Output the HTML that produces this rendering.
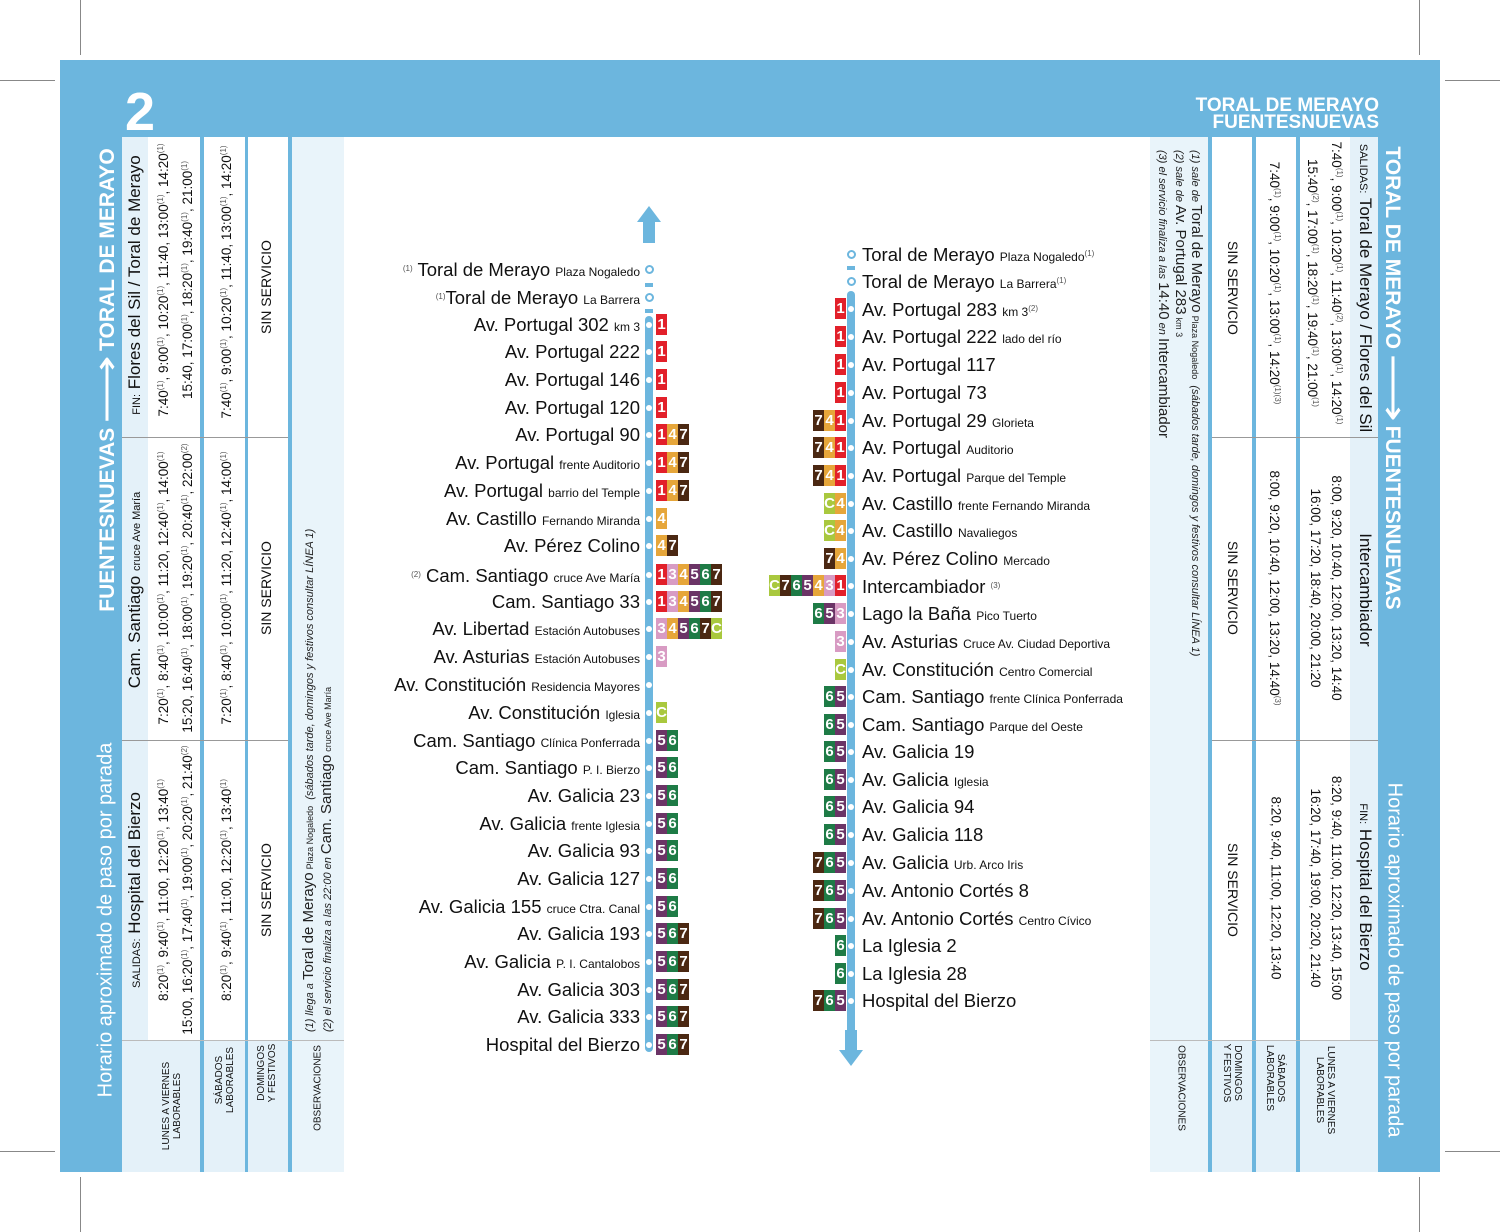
<!DOCTYPE html>
<html><head><meta charset="utf-8"><style>
*{margin:0;padding:0;box-sizing:border-box}
body{width:1500px;height:1232px;background:#fff;position:relative;overflow:hidden;font-family:"Liberation Sans",Arial,sans-serif;color:#111}
.a{position:absolute}
.cl{position:absolute;white-space:nowrap;transform:translate(-50%,-50%) rotate(-90deg)}
.cr{position:absolute;white-space:nowrap;transform:translate(-50%,-50%) rotate(90deg)}
.sl{position:absolute;white-space:nowrap;transform-origin:0 0;transform:rotate(-90deg)}
.sr{position:absolute;white-space:nowrap;transform-origin:0 0;transform:rotate(90deg)}
sup{font-size:8px;color:#555;vertical-align:5px}
.t{font-size:13.5px;text-align:center;line-height:21px}
.hd{font-size:17px}.hd small{font-size:11px}
.ss{font-size:14px}
.lb{font-size:10px;text-align:center;line-height:11px}
.ob{font-size:11px;font-style:italic;color:#222}.ob b{font-style:normal;font-weight:normal;font-size:15px}
.w{color:#fff;font-weight:bold}
.ar{font-weight:normal;font-size:34px;display:inline-block;transform:scaleX(1.4);margin:0 14px;vertical-align:-4px;line-height:20px}
.st{position:absolute;height:24px;line-height:24px;white-space:nowrap;font-size:18.5px}
.st small{font-size:12px}
.L{left:0;width:640px;text-align:right}
.R{left:862px}
.bd{position:absolute;height:21px;top:1px;display:flex}
.bd span{flex:none;display:inline-block;width:11px;height:21px;color:#fff;font-weight:bold;font-size:15px;line-height:21px;text-align:center;overflow:hidden}
.r{background:#e2202a}.p{background:#d89bc3}.o{background:#e6a63a}.u{background:#6b3466}.g{background:#1e7b46}.k{background:#4b2812}.c{background:#a9c83e}
.dot{position:absolute;width:6px;height:6px;border-radius:50%;background:#fff}
.ho{position:absolute;width:9px;height:9px;border-radius:50%;border:2px solid #6cb6de;background:#fff}
</style></head><body>
<div class="a" style="left:80px;top:0;width:1px;height:55px;background:#888"></div>
<div class="a" style="left:0;top:80px;width:55px;height:1px;background:#888"></div>
<div class="a" style="left:1419px;top:0;width:1px;height:55px;background:#888"></div>
<div class="a" style="left:1445px;top:80px;width:55px;height:1px;background:#888"></div>
<div class="a" style="left:80px;top:1177px;width:1px;height:55px;background:#888"></div>
<div class="a" style="left:0;top:1151px;width:55px;height:1px;background:#888"></div>
<div class="a" style="left:1419px;top:1177px;width:1px;height:55px;background:#888"></div>
<div class="a" style="left:1445px;top:1151px;width:55px;height:1px;background:#888"></div>

<div class="a" style="left:60px;top:60px;width:1380px;height:77px;background:#6cb6de"></div>
<div class="a" style="left:60px;top:60px;width:62px;height:1112px;background:#6cb6de"></div>
<div class="a" style="left:1378px;top:60px;width:62px;height:1112px;background:#6cb6de"></div>
<div class="a w" style="left:125px;top:82px;font-size:54px;line-height:60px">2</div>
<div class="a w" style="right:121px;top:97px;font-size:19px;line-height:17px;text-align:right">TORAL DE MERAYO<br>FUENTESNUEVAS</div>

<!-- LEFT TABLE -->
<div class="a" style="left:122px;top:137px;width:26px;height:1035px;background:#e4f1f9"></div>
<div class="a" style="left:200px;top:137px;width:4px;height:1035px;background:#6cb6de"></div>
<div class="a" style="left:245px;top:137px;width:3px;height:1035px;background:#6cb6de"></div>
<div class="a" style="left:288px;top:137px;width:4px;height:1035px;background:#6cb6de"></div>
<div class="a" style="left:292px;top:137px;width:52px;height:1035px;background:#e9f4fa"></div>
<div class="a" style="left:122px;top:1040px;width:78px;height:132px;background:#e4f1f9"></div>
<div class="a" style="left:204px;top:1040px;width:41px;height:132px;background:#e4f1f9"></div>
<div class="a" style="left:248px;top:1040px;width:40px;height:132px;background:#e4f1f9"></div>
<div class="a" style="left:122px;top:437px;width:166px;height:1px;background:#999"></div>
<div class="a" style="left:122px;top:740px;width:166px;height:1px;background:#999"></div>
<div class="a" style="left:122px;top:1040px;width:222px;height:1px;background:#bbb"></div>

<div class="cl w" style="left:108px;top:380px;font-size:21px">FUENTESNUEVAS<span class="ar">⟶</span>TORAL DE MERAYO</div>
<div class="cl" style="left:106px;top:920px;font-size:20px;color:#fff">Horario aproximado de paso por parada</div>

<div class="cl hd" style="left:135px;top:285px"><small>FIN:</small> Flores del Sil / Toral de Merayo</div>
<div class="cl hd" style="left:135px;top:590px">Cam. Santiago <small>cruce Ave María</small></div>
<div class="cl hd" style="left:135px;top:890px"><small>SALIDAS:</small> Hospital del Bierzo</div>

<div class="cl t" style="left:174px;top:280px">7:40<sup>(1)</sup>, 9:00<sup>(1)</sup>, 10:20<sup>(1)</sup>, 11:40, 13:00<sup>(1)</sup>, 14:20<sup>(1)</sup><br>15:40, 17:00<sup>(1)</sup>, 18:20<sup>(1)</sup>, 19:40<sup>(1)</sup>, 21:00<sup>(1)</sup></div>
<div class="cl t" style="left:174px;top:588px">7:20<sup>(1)</sup>, 8:40<sup>(1)</sup>, 10:00<sup>(1)</sup>, 11:20, 12:40<sup>(1)</sup>, 14:00<sup>(1)</sup><br>15:20, 16:40<sup>(1)</sup>, 18:00<sup>(1)</sup>, 19:20<sup>(1)</sup>, 20:40<sup>(1)</sup>, 22:00<sup>(2)</sup></div>
<div class="cl t" style="left:174px;top:890px">8:20<sup>(1)</sup>, 9:40<sup>(1)</sup>, 11:00, 12:20<sup>(1)</sup>, 13:40<sup>(1)</sup><br>15:00, 16:20<sup>(1)</sup>, 17:40<sup>(1)</sup>, 19:00<sup>(1)</sup>, 20:20<sup>(1)</sup>, 21:40<sup>(2)</sup></div>
<div class="cl t" style="left:225px;top:282px">7:40<sup>(1)</sup>, 9:00<sup>(1)</sup>, 10:20<sup>(1)</sup>, 11:40, 13:00<sup>(1)</sup>, 14:20<sup>(1)</sup></div>
<div class="cl t" style="left:225px;top:588px">7:20<sup>(1)</sup>, 8:40<sup>(1)</sup>, 10:00<sup>(1)</sup>, 11:20, 12:40<sup>(1)</sup>, 14:00<sup>(1)</sup></div>
<div class="cl t" style="left:225px;top:890px">8:20<sup>(1)</sup>, 9:40<sup>(1)</sup>, 11:00, 12:20<sup>(1)</sup>, 13:40<sup>(1)</sup></div>
<div class="cl ss" style="left:266px;top:287px">SIN SERVICIO</div>
<div class="cl ss" style="left:266px;top:588px">SIN SERVICIO</div>
<div class="cl ss" style="left:266px;top:890px">SIN SERVICIO</div>
<div class="sl ob" style="left:300px;top:1032px">(1) <i>llega a</i> <b>Toral de Merayo</b> <span style="font-size:9px;font-style:normal">Plaza Nogaledo</span> &nbsp;(sábados tarde, domingos y festivos consultar LÍNEA 1)</div>
<div class="sl ob" style="left:318px;top:1032px">(2) el servicio finaliza a las 22:00 en <b>Cam. Santiago</b> <span style="font-size:9px;font-style:normal">cruce Ave María</span></div>

<div class="cl lb" style="left:172px;top:1106px">LUNES A VIERNES<br>LABORABLES</div>
<div class="cl lb" style="left:225px;top:1080px">SÁBADOS<br>LABORABLES</div>
<div class="cl lb" style="left:267px;top:1073px">DOMINGOS<br>Y FESTIVOS</div>
<div class="cl lb" style="left:318px;top:1088px">OBSERVACIONES</div>

<!-- RIGHT TABLE -->
<div class="a" style="left:1150px;top:137px;width:58px;height:1035px;background:#e9f4fa"></div>
<div class="a" style="left:1208px;top:137px;width:4px;height:1035px;background:#6cb6de"></div>
<div class="a" style="left:1252px;top:137px;width:4px;height:1035px;background:#6cb6de"></div>
<div class="a" style="left:1296px;top:137px;width:4px;height:1035px;background:#6cb6de"></div>
<div class="a" style="left:1350px;top:137px;width:28px;height:1035px;background:#e4f1f9"></div>
<div class="a" style="left:1212px;top:1040px;width:40px;height:132px;background:#e4f1f9"></div>
<div class="a" style="left:1256px;top:1040px;width:40px;height:132px;background:#e4f1f9"></div>
<div class="a" style="left:1300px;top:1040px;width:50px;height:132px;background:#e4f1f9"></div>
<div class="a" style="left:1212px;top:437px;width:166px;height:1px;background:#999"></div>
<div class="a" style="left:1212px;top:740px;width:166px;height:1px;background:#999"></div>
<div class="a" style="left:1150px;top:1040px;width:228px;height:1px;background:#bbb"></div>

<div class="cr w" style="left:1392px;top:378px;font-size:21px">TORAL DE MERAYO<span class="ar">⟶</span>FUENTESNUEVAS</div>
<div class="cr" style="left:1394px;top:960px;font-size:20px;color:#fff">Horario aproximado de paso por parada</div>

<div class="cr hd" style="left:1365px;top:288px"><small>SALIDAS:</small> Toral de Merayo / Flores del Sil</div>
<div class="cr hd" style="left:1365px;top:590px">Intercambiador</div>
<div class="cr hd" style="left:1365px;top:887px"><small>FIN:</small> Hospital del Bierzo</div>

<div class="cr t" style="left:1326px;top:283px">7:40<sup>(1)</sup>, 9:00<sup>(1)</sup>, 10:20<sup>(1)</sup>, 11:40<sup>(2)</sup>, 13:00<sup>(1)</sup>, 14:20<sup>(1)</sup><br>15:40<sup>(2)</sup>, 17:00<sup>(1)</sup>, 18:20<sup>(1)</sup>, 19:40<sup>(1)</sup>, 21:00<sup>(1)</sup></div>
<div class="cr t" style="left:1326px;top:588px">8:00, 9:20, 10:40, 12:00, 13:20, 14:40<br>16:00, 17:20, 18:40, 20:00, 21:20</div>
<div class="cr t" style="left:1326px;top:888px">8:20, 9:40, 11:00, 12:20, 13:40, 15:00<br>16:20, 17:40, 19:00, 20:20, 21:40</div>
<div class="cr t" style="left:1276px;top:283px">7:40<sup>(1)</sup>, 9:00<sup>(1)</sup>, 10:20<sup>(1)</sup>, 13:00<sup>(1)</sup>, 14:20<sup>(1)(3)</sup></div>
<div class="cr t" style="left:1276px;top:588px">8:00, 9:20, 10:40, 12:00, 13:20, 14:40<sup>(3)</sup></div>
<div class="cr t" style="left:1276px;top:888px">8:20, 9:40, 11:00, 12:20, 13:40</div>
<div class="cr ss" style="left:1233px;top:288px">SIN SERVICIO</div>
<div class="cr ss" style="left:1233px;top:588px">SIN SERVICIO</div>
<div class="cr ss" style="left:1233px;top:890px">SIN SERVICIO</div>
<div class="sr ob" style="left:1205px;top:150px">(1) <i>sale de</i> <b>Toral de Merayo</b> <span style="font-size:9px;font-style:normal">Plaza Nogaledo</span> &nbsp;(sábados tarde, domingos y festivos consultar LÍNEA 1)</div>
<div class="sr ob" style="left:1189px;top:150px">(2) <i>sale de</i> <b>Av. Portugal 283</b> <span style="font-size:9px;font-style:normal">km 3</span></div>
<div class="sr ob" style="left:1172px;top:150px">(3) el servicio finaliza a las <b>14:40</b> en <b>Intercambiador</b></div>

<div class="cr lb" style="left:1325px;top:1090px">LUNES A VIERNES<br>LABORABLES</div>
<div class="cr lb" style="left:1275px;top:1078px">SÁBADOS<br>LABORABLES</div>
<div class="cr lb" style="left:1232px;top:1073px">DOMINGOS<br>Y FESTIVOS</div>
<div class="cr lb" style="left:1181px;top:1088px">OBSERVACIONES</div>

<svg class="a" style="left:0;top:0" width="1500" height="1232">
<polygon points="649,206 661,222 655,222 655,243 643,243 643,222 637,222" fill="#6cb6de"/>
<rect x="645" y="283" width="8" height="4" fill="#6cb6de"/>
<rect x="645" y="309" width="8" height="4" fill="#6cb6de"/>
<rect x="645" y="316" width="8" height="736" rx="4" fill="#6cb6de"/>
<rect x="847" y="266" width="8" height="4" fill="#6cb6de"/>
<rect x="847" y="291" width="8" height="738" rx="4" fill="#6cb6de"/>
<rect x="847" y="1001" width="8" height="30" fill="#6cb6de"/>
<polygon points="851,1066 863,1050 857,1050 857,1030 845,1030 845,1050 839,1050" fill="#6cb6de"/>
</svg>
<div class="ho" style="left:645px;top:265px"></div>
<div class="ho" style="left:645px;top:293px"></div>
<div class="ho" style="left:847px;top:250px"></div>
<div class="ho" style="left:847px;top:277px"></div>

<div class="st L" style="top:257px"><sup>(1)</sup> Toral de Merayo <small>Plaza Nogaledo</small></div>
<div class="st L" style="top:285px"><sup>(1)</sup>Toral de Merayo <small>La Barrera</small></div>
<div class="st L" style="top:313px">Av. Portugal 302 <small>km 3</small></div><div class="bd" style="left:656px;top:314px"><span class="r">1</span></div>
<div class="st L" style="top:340px">Av. Portugal 222</div><div class="bd" style="left:656px;top:341px"><span class="r">1</span></div>
<div class="st L" style="top:368px">Av. Portugal 146</div><div class="bd" style="left:656px;top:369px"><span class="r">1</span></div>
<div class="st L" style="top:396px">Av. Portugal 120</div><div class="bd" style="left:656px;top:397px"><span class="r">1</span></div>
<div class="st L" style="top:423px">Av. Portugal 90</div><div class="bd" style="left:656px;top:424px"><span class="r">1</span><span class="o">4</span><span class="k">7</span></div>
<div class="st L" style="top:451px">Av. Portugal <small>frente Auditorio</small></div><div class="bd" style="left:656px;top:452px"><span class="r">1</span><span class="o">4</span><span class="k">7</span></div>
<div class="st L" style="top:479px">Av. Portugal <small>barrio del Temple</small></div><div class="bd" style="left:656px;top:480px"><span class="r">1</span><span class="o">4</span><span class="k">7</span></div>
<div class="st L" style="top:507px">Av. Castillo <small>Fernando Miranda</small></div><div class="bd" style="left:656px;top:508px"><span class="o">4</span></div>
<div class="st L" style="top:534px">Av. Pérez Colino</div><div class="bd" style="left:656px;top:535px"><span class="o">4</span><span class="k">7</span></div>
<div class="st L" style="top:563px"><sup>(2)</sup> Cam. Santiago <small>cruce Ave María</small></div><div class="bd" style="left:656px;top:564px"><span class="r">1</span><span class="p">3</span><span class="o">4</span><span class="u">5</span><span class="g">6</span><span class="k">7</span></div>
<div class="st L" style="top:590px">Cam. Santiago 33</div><div class="bd" style="left:656px;top:591px"><span class="r">1</span><span class="p">3</span><span class="o">4</span><span class="u">5</span><span class="g">6</span><span class="k">7</span></div>
<div class="st L" style="top:617px">Av. Libertad <small>Estación Autobuses</small></div><div class="bd" style="left:656px;top:618px"><span class="p">3</span><span class="o">4</span><span class="u">5</span><span class="g">6</span><span class="k">7</span><span class="c">C</span></div>
<div class="st L" style="top:645px">Av. Asturias <small>Estación Autobuses</small></div><div class="bd" style="left:656px;top:646px"><span class="p">3</span></div>
<div class="st L" style="top:673px">Av. Constitución <small>Residencia Mayores</small></div>
<div class="st L" style="top:701px">Av. Constitución <small>Iglesia</small></div><div class="bd" style="left:656px;top:702px"><span class="c">C</span></div>
<div class="st L" style="top:729px">Cam. Santiago <small>Clínica Ponferrada</small></div><div class="bd" style="left:656px;top:730px"><span class="u">5</span><span class="g">6</span></div>
<div class="st L" style="top:756px">Cam. Santiago <small>P. I. Bierzo</small></div><div class="bd" style="left:656px;top:757px"><span class="u">5</span><span class="g">6</span></div>
<div class="st L" style="top:784px">Av. Galicia 23</div><div class="bd" style="left:656px;top:785px"><span class="u">5</span><span class="g">6</span></div>
<div class="st L" style="top:812px">Av. Galicia <small>frente Iglesia</small></div><div class="bd" style="left:656px;top:813px"><span class="u">5</span><span class="g">6</span></div>
<div class="st L" style="top:839px">Av. Galicia 93</div><div class="bd" style="left:656px;top:840px"><span class="u">5</span><span class="g">6</span></div>
<div class="st L" style="top:867px">Av. Galicia 127</div><div class="bd" style="left:656px;top:868px"><span class="u">5</span><span class="g">6</span></div>
<div class="st L" style="top:895px">Av. Galicia 155 <small>cruce Ctra. Canal</small></div><div class="bd" style="left:656px;top:896px"><span class="u">5</span><span class="g">6</span></div>
<div class="st L" style="top:922px">Av. Galicia 193</div><div class="bd" style="left:656px;top:923px"><span class="u">5</span><span class="g">6</span><span class="k">7</span></div>
<div class="st L" style="top:950px">Av. Galicia <small>P. I. Cantalobos</small></div><div class="bd" style="left:656px;top:951px"><span class="u">5</span><span class="g">6</span><span class="k">7</span></div>
<div class="st L" style="top:978px">Av. Galicia 303</div><div class="bd" style="left:656px;top:979px"><span class="u">5</span><span class="g">6</span><span class="k">7</span></div>
<div class="st L" style="top:1005px">Av. Galicia 333</div><div class="bd" style="left:656px;top:1006px"><span class="u">5</span><span class="g">6</span><span class="k">7</span></div>
<div class="st L" style="top:1033px">Hospital del Bierzo</div><div class="bd" style="left:656px;top:1034px"><span class="u">5</span><span class="g">6</span><span class="k">7</span></div>

<div class="st R" style="top:242px">Toral de Merayo <small>Plaza Nogaledo</small><sup>(1)</sup></div>
<div class="st R" style="top:269px">Toral de Merayo <small>La Barrera</small><sup>(1)</sup></div>
<div class="st R" style="top:297px">Av. Portugal 283 <small>km 3</small><sup>(2)</sup></div><div class="bd" style="right:654px;top:298px"><span class="r">1</span></div>
<div class="st R" style="top:325px">Av. Portugal 222 <small>lado del río</small></div><div class="bd" style="right:654px;top:326px"><span class="r">1</span></div>
<div class="st R" style="top:353px">Av. Portugal 117</div><div class="bd" style="right:654px;top:354px"><span class="r">1</span></div>
<div class="st R" style="top:381px">Av. Portugal 73</div><div class="bd" style="right:654px;top:382px"><span class="r">1</span></div>
<div class="st R" style="top:409px">Av. Portugal 29 <small>Glorieta</small></div><div class="bd" style="right:654px;top:410px"><span class="k">7</span><span class="o">4</span><span class="r">1</span></div>
<div class="st R" style="top:436px">Av. Portugal <small>Auditorio</small></div><div class="bd" style="right:654px;top:437px"><span class="k">7</span><span class="o">4</span><span class="r">1</span></div>
<div class="st R" style="top:464px">Av. Portugal <small>Parque del Temple</small></div><div class="bd" style="right:654px;top:465px"><span class="k">7</span><span class="o">4</span><span class="r">1</span></div>
<div class="st R" style="top:492px">Av. Castillo <small>frente Fernando Miranda</small></div><div class="bd" style="right:654px;top:493px"><span class="c">C</span><span class="o">4</span></div>
<div class="st R" style="top:519px">Av. Castillo <small>Navaliegos</small></div><div class="bd" style="right:654px;top:520px"><span class="c">C</span><span class="o">4</span></div>
<div class="st R" style="top:547px">Av. Pérez Colino <small>Mercado</small></div><div class="bd" style="right:654px;top:548px"><span class="k">7</span><span class="o">4</span></div>
<div class="st R" style="top:574px">Intercambiador <sup>(3)</sup></div><div class="bd" style="right:654px;top:575px"><span class="c">C</span><span class="k">7</span><span class="g">6</span><span class="u">5</span><span class="o">4</span><span class="p">3</span><span class="r">1</span></div>
<div class="st R" style="top:602px">Lago la Baña <small>Pico Tuerto</small></div><div class="bd" style="right:654px;top:603px"><span class="g">6</span><span class="u">5</span><span class="p">3</span></div>
<div class="st R" style="top:630px">Av. Asturias <small>Cruce Av. Ciudad Deportiva</small></div><div class="bd" style="right:654px;top:631px"><span class="p">3</span></div>
<div class="st R" style="top:658px">Av. Constitución <small>Centro Comercial</small></div><div class="bd" style="right:654px;top:659px"><span class="c">C</span></div>
<div class="st R" style="top:685px">Cam. Santiago <small>frente Clínica Ponferrada</small></div><div class="bd" style="right:654px;top:686px"><span class="g">6</span><span class="u">5</span></div>
<div class="st R" style="top:713px">Cam. Santiago <small>Parque del Oeste</small></div><div class="bd" style="right:654px;top:714px"><span class="g">6</span><span class="u">5</span></div>
<div class="st R" style="top:740px">Av. Galicia 19</div><div class="bd" style="right:654px;top:741px"><span class="g">6</span><span class="u">5</span></div>
<div class="st R" style="top:768px">Av. Galicia <small>Iglesia</small></div><div class="bd" style="right:654px;top:769px"><span class="g">6</span><span class="u">5</span></div>
<div class="st R" style="top:795px">Av. Galicia 94</div><div class="bd" style="right:654px;top:796px"><span class="g">6</span><span class="u">5</span></div>
<div class="st R" style="top:823px">Av. Galicia 118</div><div class="bd" style="right:654px;top:824px"><span class="g">6</span><span class="u">5</span></div>
<div class="st R" style="top:851px">Av. Galicia <small>Urb. Arco Iris</small></div><div class="bd" style="right:654px;top:852px"><span class="k">7</span><span class="g">6</span><span class="u">5</span></div>
<div class="st R" style="top:879px">Av. Antonio Cortés 8</div><div class="bd" style="right:654px;top:880px"><span class="k">7</span><span class="g">6</span><span class="u">5</span></div>
<div class="st R" style="top:907px">Av. Antonio Cortés <small>Centro Cívico</small></div><div class="bd" style="right:654px;top:908px"><span class="k">7</span><span class="g">6</span><span class="u">5</span></div>
<div class="st R" style="top:934px">La Iglesia 2</div><div class="bd" style="right:654px;top:935px"><span class="g">6</span></div>
<div class="st R" style="top:962px">La Iglesia 28</div><div class="bd" style="right:654px;top:963px"><span class="g">6</span></div>
<div class="st R" style="top:989px">Hospital del Bierzo</div><div class="bd" style="right:654px;top:990px"><span class="k">7</span><span class="g">6</span><span class="u">5</span></div>

<div class="dot" style="left:646px;top:322px"></div><div class="dot" style="left:646px;top:349px"></div><div class="dot" style="left:646px;top:377px"></div><div class="dot" style="left:646px;top:405px"></div><div class="dot" style="left:646px;top:432px"></div><div class="dot" style="left:646px;top:460px"></div><div class="dot" style="left:646px;top:488px"></div><div class="dot" style="left:646px;top:516px"></div><div class="dot" style="left:646px;top:543px"></div><div class="dot" style="left:646px;top:572px"></div><div class="dot" style="left:646px;top:599px"></div><div class="dot" style="left:646px;top:626px"></div><div class="dot" style="left:646px;top:654px"></div><div class="dot" style="left:646px;top:682px"></div><div class="dot" style="left:646px;top:710px"></div><div class="dot" style="left:646px;top:738px"></div><div class="dot" style="left:646px;top:765px"></div><div class="dot" style="left:646px;top:793px"></div><div class="dot" style="left:646px;top:821px"></div><div class="dot" style="left:646px;top:848px"></div><div class="dot" style="left:646px;top:876px"></div><div class="dot" style="left:646px;top:904px"></div><div class="dot" style="left:646px;top:931px"></div><div class="dot" style="left:646px;top:959px"></div><div class="dot" style="left:646px;top:987px"></div><div class="dot" style="left:646px;top:1014px"></div><div class="dot" style="left:646px;top:1042px"></div>
<div class="dot" style="left:848px;top:306px"></div><div class="dot" style="left:848px;top:334px"></div><div class="dot" style="left:848px;top:362px"></div><div class="dot" style="left:848px;top:390px"></div><div class="dot" style="left:848px;top:418px"></div><div class="dot" style="left:848px;top:445px"></div><div class="dot" style="left:848px;top:473px"></div><div class="dot" style="left:848px;top:501px"></div><div class="dot" style="left:848px;top:528px"></div><div class="dot" style="left:848px;top:556px"></div><div class="dot" style="left:848px;top:583px"></div><div class="dot" style="left:848px;top:611px"></div><div class="dot" style="left:848px;top:639px"></div><div class="dot" style="left:848px;top:667px"></div><div class="dot" style="left:848px;top:694px"></div><div class="dot" style="left:848px;top:722px"></div><div class="dot" style="left:848px;top:749px"></div><div class="dot" style="left:848px;top:777px"></div><div class="dot" style="left:848px;top:804px"></div><div class="dot" style="left:848px;top:832px"></div><div class="dot" style="left:848px;top:860px"></div><div class="dot" style="left:848px;top:888px"></div><div class="dot" style="left:848px;top:916px"></div><div class="dot" style="left:848px;top:943px"></div><div class="dot" style="left:848px;top:971px"></div><div class="dot" style="left:848px;top:998px"></div>
</body></html>
